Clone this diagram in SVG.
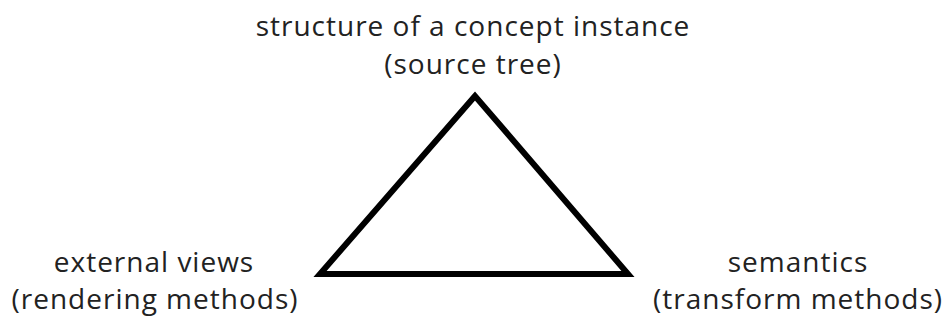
<svg xmlns="http://www.w3.org/2000/svg" width="945" height="321" viewBox="0 0 945 321">
<style>
text{font-family:"Open Sans","Liberation Sans",sans-serif;font-size:28px;letter-spacing:1px;fill:#222;text-anchor:middle}
.edge{fill:none;stroke:#000;stroke-width:6;stroke-linejoin:miter}
</style>
<rect width="945" height="321" fill="#fff"/>
<g id="connectors">
<polygon class="edge" points="475,96 320,274 628,274"/>
</g>
<g id="node-top">
<text x="473" y="36">structure of a concept instance</text>
<text x="473" y="74">(source tree)</text>
</g>
<g id="node-left">
<text x="154" y="272">external views</text>
<text x="155" y="309">(rendering methods)</text>
</g>
<g id="node-right">
<text x="798" y="272">semantics</text>
<text x="798" y="309">(transform methods)</text>
</g>
</svg>
